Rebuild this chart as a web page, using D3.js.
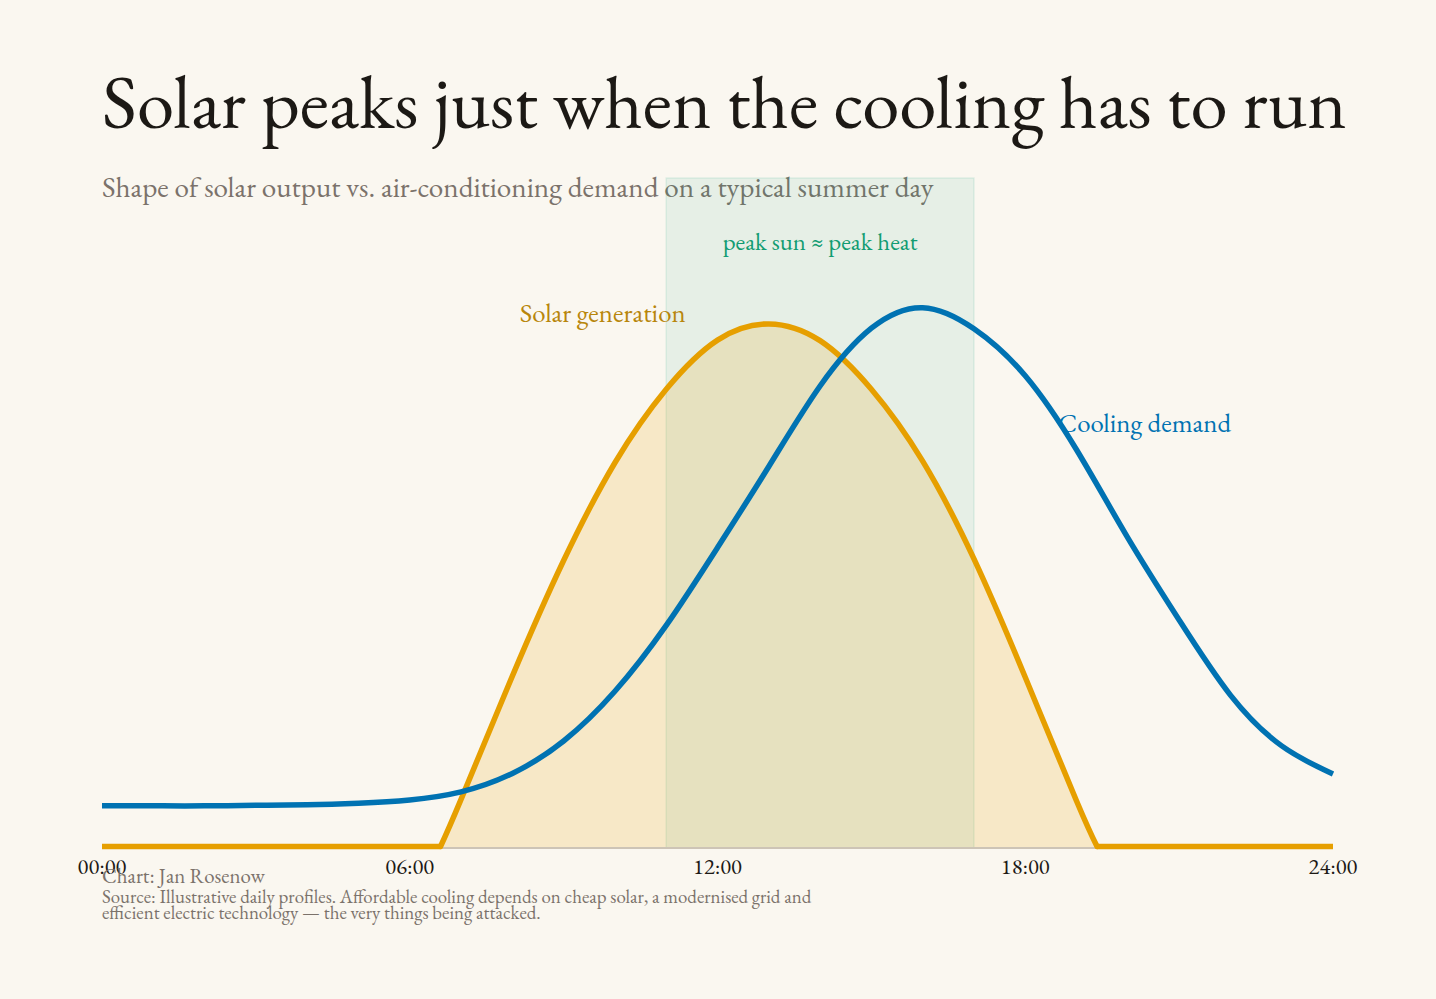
<!DOCTYPE html>
<html>
<head>
<meta charset="utf-8">
<script src="https://cdn.jsdelivr.net/npm/d3@7"></script>
<style>
  body { margin: 0; background: #faf7f0; }
  svg { display: block; }
  text { font-family: "EB Garamond", "Liberation Serif", serif; }
</style>
</head>
<body>
<script>
// hours of the day and the two normalised profiles
var solarHours = [0, 1, 2, 3, 4, 5, 6, 6.6, 7, 8, 9, 10, 11, 12, 13, 14, 15, 16, 17, 18, 19, 19.4, 20, 21, 22, 23, 24];
var solarValues = [0, 0, 0, 0, 0, 0, 0, 0, 0.090, 0.318, 0.532, 0.713, 0.849, 0.940, 0.970, 0.939, 0.849, 0.716, 0.535, 0.316, 0.087, 0, 0, 0, 0, 0, 0];

var coolingHours = [0, 1, 2, 3, 4, 5, 6, 7, 8, 9, 10, 11, 12, 13, 14, 15, 16, 17, 18, 19, 20, 21, 22, 23, 24];
var coolingValues = [0.078, 0.078, 0.078, 0.079, 0.080, 0.083, 0.089, 0.104, 0.138, 0.198, 0.290, 0.412, 0.556, 0.706, 0.855, 0.962, 1.0, 0.961, 0.874, 0.737, 0.574, 0.422, 0.283, 0.189, 0.137];

var tickHours = [0, 6, 12, 18, 24];
var tickLabels = ["00:00", "06:00", "12:00", "18:00", "24:00"];

var peakWindow = [11, 17];

var width = 1436,
    height = 999;

// plot box (window.top is taken, so m.*)
var m = {left: 102, right: 1333, top: 178, bottom: 848};

var svg = d3.select("body").append("svg")
    .attr("width", width)
    .attr("height", height);

svg.append("rect")
    .attr("width", width)
    .attr("height", height)
    .attr("fill", "#faf7f0");

var x = d3.scaleLinear().domain([0, 24]).range([m.left, m.right]);
var y = d3.scaleLinear().domain([0, 1.24]).range([m.bottom, m.top]);

var solar = solarHours.map(function(h, i){ return {h: h, v: solarValues[i]}; });
var cooling = coolingHours.map(function(h, i){ return {h: h, v: coolingValues[i]}; });
// daylight part runs from the last zero before the hump to the first zero after it
var firstUp = solar.findIndex(function(d){ return d.v > 0; }) - 1;
var lastUp = solar.length - solar.slice().reverse().findIndex(function(d){ return d.v > 0; });
var daylight = solar.slice(firstUp, lastUp + 1);

// fit text to the width it has in the picture
function fit(sel, w){
  var l = sel.node().getComputedTextLength();
  sel.attr("font-size", +sel.attr("font-size") * w / l);
  return sel;
}

// titles
fit(svg.append("text")
    .attr("x", m.left).attr("y", 128)
    .attr("font-size", 72)
    .attr("fill", "#1c1915")
    .text("Solar peaks just when the cooling has to run"), 1245);

fit(svg.append("text")
    .attr("x", m.left).attr("y", 197)
    .attr("font-size", 26)
    .attr("fill", "#7b726b")
    .text("Shape of solar output vs. air-conditioning demand on a typical summer day"), 832);

// peak window band
svg.append("rect")
    .attr("x", x(peakWindow[0]))
    .attr("y", m.top)
    .attr("width", x(peakWindow[1]) - x(peakWindow[0]))
    .attr("height", m.bottom - m.top)
    .attr("fill", "rgba(0,158,115,0.08)")
    .attr("stroke", "rgba(0,158,115,0.10)")
    .attr("stroke-width", 1.5);

fit(svg.append("text")
    .attr("x", x((peakWindow[0] + peakWindow[1]) / 2)).attr("y", 250)
    .attr("text-anchor", "middle")
    .attr("font-size", 22)
    .attr("fill", "#119c72")
    .text("peak sun \u2248 peak heat"), 195);

// solar area
svg.append("path")
    .datum(daylight)
    .attr("fill", "rgba(230,159,0,0.17)")
    .attr("d", d3.area()
      .x(function(d){ return x(d.h); })
      .y0(y(0))
      .y1(function(d){ return y(d.v); })
      .curve(d3.curveNatural));

// baseline
svg.append("line")
    .attr("x1", m.left).attr("x2", m.right)
    .attr("y1", m.bottom).attr("y2", m.bottom)
    .attr("stroke", "#cdc4b6")
    .attr("stroke-width", 2);

// solar line: flat at night, smooth hump in the day
svg.append("path")
    .datum(solar)
    .attr("fill", "none")
    .attr("stroke", "#e69f00")
    .attr("stroke-width", 5.5)
    .attr("d", d3.line()
      .defined(function(d){ return d.v === 0; })
      .x(function(d){ return x(d.h); })
      .y(function(d){ return y(d.v) - 1.5; }));

svg.append("path")
    .datum(daylight)
    .attr("fill", "none")
    .attr("stroke", "#e69f00")
    .attr("stroke-width", 5.5)
    .attr("stroke-linejoin", "round")
    .attr("stroke-linecap", "round")
    .attr("d", d3.line()
      .x(function(d){ return x(d.h); })
      .y(function(d){ return y(d.v) - (d.v === 0 ? 1.5 : 0); })
      .curve(d3.curveNatural));

// cooling line
svg.append("path")
    .datum(cooling)
    .attr("fill", "none")
    .attr("stroke", "#0072b2")
    .attr("stroke-width", 5.5)
    .attr("d", d3.line()
      .x(function(d){ return x(d.h); })
      .y(function(d){ return y(d.v); })
      .curve(d3.curveNatural));

// series labels
fit(svg.append("text")
    .attr("x", x(11.38)).attr("y", 322)
    .attr("text-anchor", "end")
    .attr("font-size", 22)
    .attr("fill", "#b8860b")
    .text("Solar generation"), 166);

fit(svg.append("text")
    .attr("x", x(18.64)).attr("y", 432)
    .attr("font-size", 22)
    .attr("fill", "#0072b2")
    .text("Cooling demand"), 173);

// x axis tick labels
svg.selectAll(".tick")
  .data(tickHours)
  .enter().append("text")
    .attr("class", "tick")
    .attr("x", function(d){ return x(d); })
    .attr("y", 874)
    .attr("text-anchor", "middle")
    .attr("font-size", 22.5)
    .attr("fill", "#1c1915")
    .text(function(d, i){ return tickLabels[i]; });

// footer
var footer = svg.append("g").attr("fill", "#7b726b");
fit(footer.append("text")
    .attr("x", m.left).attr("y", 883)
    .attr("font-size", 17)
    .text("Chart: Jan Rosenow"), 163);

var src = fit(footer.append("text")
    .attr("x", m.left).attr("y", 903)
    .attr("font-size", 16)
    .text("Source: Illustrative daily profiles. Affordable cooling depends on cheap solar, a modernised grid and"), 710);

footer.append("text")
    .attr("x", m.left).attr("y", 919)
    .attr("font-size", src.attr("font-size"))
    .text("efficient electric technology \u2014 the very things being attacked.");
</script>
</body>
</html>
